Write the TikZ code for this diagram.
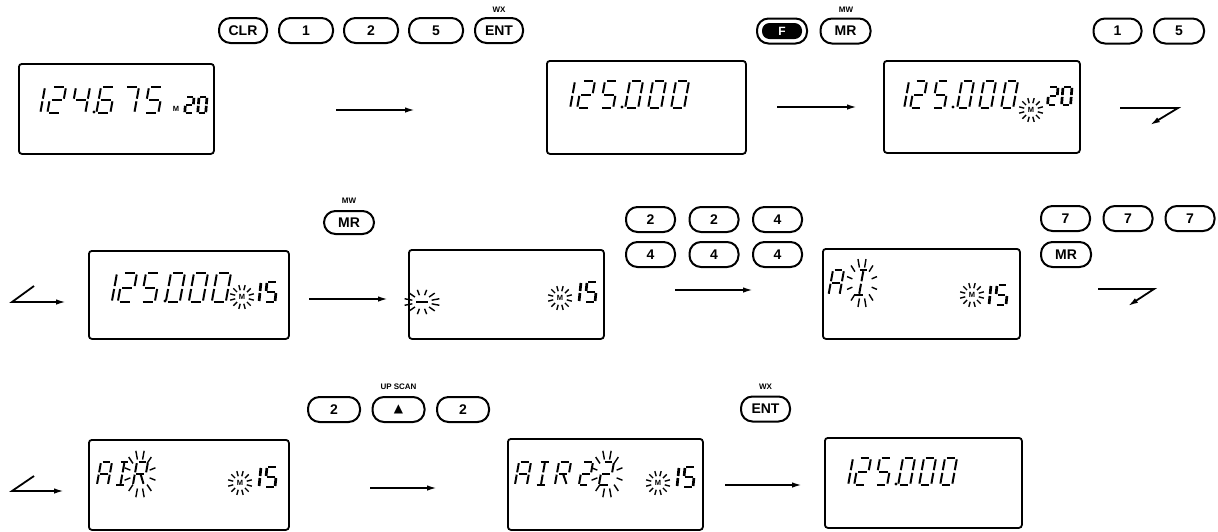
\documentclass[tikz,border=0pt]{standalone}
\usepackage{fontspec}
\setmainfont{Liberation Sans}
\newfontfamily\symfont{DejaVu Sans}
\usetikzlibrary{arrows.meta}
\def\lsl{0.18}
\def\lsga{\draw[seg] (0.14,0)--(0.86,0);}
\def\lsgb{\draw[seg] (1,0.1)--(1,0.9);}
\def\lsgc{\draw[seg] (1,1.1)--(1,1.9);}
\def\lsgd{\draw[seg] (0.14,2)--(0.86,2);}
\def\lsge{\draw[seg] (0,1.1)--(0,1.9);}
\def\lsgf{\draw[seg] (0,0.1)--(0,0.9);}
\def\lsgg{\draw[seg] (0.14,1)--(0.86,1);}
\def\lsgh{\draw[seg] (0.5,0.1)--(0.5,0.9);}
\def\lsgi{\draw[seg] (0.5,1.1)--(0.5,1.9);}
\def\lsgj{\draw[seg] (0.55,1.1)--(0.95,1.9);}
% x y w h segments(macro)
\newcommand\lch[5]{\begin{scope}[shift={(#1,#2)},xslant=\lsl,xscale=#3,yscale=#4/2]\foreach \s in #5{\csname lsg\s\endcsname}\end{scope}}
\def\Dzero{a,b,c,d,e,f}
\def\Done{e,f}
\def\Dtwo{a,b,g,e,d}
\def\Dfour{f,g,b,c}
\def\Dfive{a,f,g,c,d}
\def\Dsix{a,f,g,e,c,d}
\def\Dseven{a,b,c}
\def\LA{a,b,c,e,f,g}
\def\LI{a,d,h,i}
\def\LR{a,b,f,e,g,j}
% cx cy rx ry ratio
\newcommand\flashat[5]{\foreach \a in {15,45,...,345}{\draw[ray] ({#1+#3*cos(\a)},{#2+#4*sin(\a)}) -- ({#1+#5*#3*cos(\a)},{#2+#5*#4*sin(\a)});}}
\newcommand\keyat[6]{\node[key, minimum width=#4pt, minimum height=#5pt] (#1) at (#2,#3) {#6};}
\newcommand\dispat[5]{\node[disp, anchor=north west, minimum width=#4pt, minimum height=#5pt] (#1) at (#2,#3) {};}
\tikzset{
 disp/.style={draw, line width=1.8pt, rounded corners=3pt, inner sep=0pt},
 key/.style={draw, line width=2pt, rounded corners=11.5pt, fill=white, inner sep=0pt, font=\bfseries\fontsize{14}{14}\selectfont},
 lbl/.style={font=\bfseries\fontsize{8}{8}\selectfont, inner sep=0pt},
 mlbl/.style={font=\bfseries\fontsize{7.5}{7.5}\selectfont, inner sep=0pt},
 arr/.style={line width=1.8pt, -{Latex[length=10pt,width=5.5pt]}},
 seg/.style={line width=2pt},
 ray/.style={line width=1.4pt},
 bold/.style={seg/.style={line width=2.7pt}},
}
\begin{document}
\begin{tikzpicture}[x=1pt,y=-1pt]
\useasboundingbox (0,0) rectangle (1218,531);
% ---------------- row 1 ----------------
\keyat{kclr}{243}{30.5}{48}{25}{CLR}
\keyat{k1a}{306}{30.5}{54}{25}{1}
\keyat{k2a}{371}{30.5}{54}{25}{2}
\keyat{k5a}{436}{30.5}{54}{25}{5}
\keyat{kenta}{499}{30.5}{48}{25}{ENT}
\node[lbl] (wxa) at (499,10) {WX};
\node[key, minimum width=50pt, minimum height=25pt] (kf) at (782,31) {};
\node[fill=black, rounded corners=7.5pt, minimum width=40pt, minimum height=16pt, inner sep=0pt, text=white, font=\bfseries\fontsize{12}{12}\selectfont] (kfi) at (782,31) {F};
\keyat{kmra}{845.5}{31}{50}{25}{MR}
\node[lbl] (mwa) at (846,10) {MW};
\keyat{k1b}{1117.5}{31}{48}{25}{1}
\keyat{k5b}{1179}{31}{50}{25}{5}

\dispat{d1}{18}{63}{195}{90}
\lch{45}{87}{14}{26}{\Done}
\lch{52}{87}{14}{26}{\Dtwo}
\lch{76}{87}{14}{26}{\Dfour}
\fill (94,112) circle (1.6);
\lch{101}{87}{14}{26}{\Dsix}
\lch{125}{87}{14}{26}{\Dseven}
\lch{149}{87}{14}{26}{\Dfive}
\node[mlbl] (m1) at (176,108.5) {M};
\begin{scope}[bold]
\def\lsl{0.08}
\lch{186}{97}{8}{16}{\Dtwo}
\lch{199}{97}{8}{16}{\Dzero}
\end{scope}

\dispat{d2}{546}{60}{199}{93}
\lch{575}{81}{13}{27}{\Done}
\lch{582}{81}{13}{27}{\Dtwo}
\lch{605}{81}{13}{27}{\Dfive}
\fill (622,107) circle (1.6);
\lch{630}{81}{13}{27}{\Dzero}
\lch{653}{81}{13}{27}{\Dzero}
\lch{676}{81}{13}{27}{\Dzero}

\dispat{d3}{883}{60}{196}{92}
\lch{909}{81}{12}{27}{\Done}
\lch{915}{81}{12}{27}{\Dtwo}
\lch{937}{81}{12}{27}{\Dfive}
\fill (953,107) circle (1.6);
\lch{962}{81}{12}{27}{\Dzero}
\lch{984}{81}{12}{27}{\Dzero}
\lch{1006}{81}{12}{27}{\Dzero}
\node[mlbl] (m3) at (1031,110) {M};
\flashat{1031}{110}{7}{7}{1.75}
\begin{scope}[bold]
\def\lsl{0.08}
\lch{1049}{87}{9}{18}{\Dtwo}
\lch{1063}{87}{9}{18}{\Dzero}
\end{scope}

\coordinate (a1s) at (336,110); \coordinate (a1e) at (415,110);
\draw[arr] (a1s) -- (a1e);
\coordinate (a2s) at (777,107); \coordinate (a2e) at (857,107);
\draw[arr] (a2s) -- (a2e);
\coordinate (b1a) at (1120,108); \coordinate (b1b) at (1178,108); \coordinate (b1c) at (1150,125);
\draw[arr] (b1a) -- (b1b) -- (b1c);

% ---------------- row 2 ----------------
\keyat{kmrb}{349}{222.5}{50}{23}{MR}
\node[lbl] (mwb) at (349,201) {MW};
\keyat{k2b}{650.5}{219.5}{49}{25}{2}
\keyat{k2c}{714}{219.5}{49}{25}{2}
\keyat{k4a}{777.5}{219.5}{49}{25}{4}
\keyat{k4b}{650.5}{254.5}{49}{25}{4}
\keyat{k4c}{714}{254.5}{49}{25}{4}
\keyat{k4d}{777.5}{254.5}{49}{25}{4}
\keyat{k7a}{1065.5}{218.5}{49}{25}{7}
\keyat{k7b}{1128}{218.5}{49}{25}{7}
\keyat{k7c}{1190}{218.5}{49}{25}{7}
\keyat{kmrc}{1066}{254.5}{50}{25}{MR}

\dispat{d4}{88}{250}{200}{88}
\lch{117}{273}{14}{29}{\Done}
\lch{123}{273}{14}{29}{\Dtwo}
\lch{146}{273}{14}{29}{\Dfive}
\fill (165,301) circle (1.7);
\lch{171}{273}{14}{29}{\Dzero}
\lch{194}{273}{14}{29}{\Dzero}
\lch{217}{273}{14}{29}{\Dzero}
\node[mlbl] (m4) at (242,297) {M};
\flashat{242}{297}{7}{7}{1.75}
\begin{scope}[bold]
\def\lsl{0.1}
\lch{261}{282}{1}{20}{\Done}
\lch{267}{282}{10}{20}{\Dfive}
\end{scope}

\dispat{d5}{408}{249}{195}{89}
\draw[seg] (416,302) -- (428,302);
\flashat{422}{302}{10}{7}{1.8}
\node[mlbl] (m5) at (560,298) {M};
\flashat{560}{298}{7}{7}{1.75}
\begin{scope}[bold]
\def\lsl{0.1}
\lch{581}{282}{1}{20}{\Done}
\lch{587}{282}{10}{20}{\Dfive}
\end{scope}

\dispat{d6}{822}{248}{197}{90}
\lch{833}{270}{11}{25}{\LA}
\lch{858}{270}{11}{25}{\LI}
\flashat{862}{283}{10}{16}{1.55}
\node[mlbl] (m6) at (972,295) {M};
\flashat{972}{295}{7}{7}{1.75}
\begin{scope}[bold]
\def\lsl{0.1}
\lch{991}{285}{1}{20}{\Done}
\lch{997}{285}{11}{20}{\Dfive}
\end{scope}

\coordinate (b2a) at (34,286); \coordinate (b2b) at (12,302); \coordinate (b2c) at (66,302);
\draw[arr] (b2a) -- (b2b) -- (b2c);
\coordinate (a3s) at (309,299); \coordinate (a3e) at (388,299);
\draw[arr] (a3s) -- (a3e);
\coordinate (a4s) at (675,290); \coordinate (a4e) at (753,290);
\draw[arr] (a4s) -- (a4e);
\coordinate (b3a) at (1098,289); \coordinate (b3b) at (1154,289); \coordinate (b3c) at (1128,306);
\draw[arr] (b3a) -- (b3b) -- (b3c);

% ---------------- row 3 ----------------
\keyat{k2d}{334}{409.5}{52}{25}{2}
\node[key, minimum width=52pt, minimum height=25pt] (kup) at (398.5,409.5) {\symfont\fontsize{12}{12}\selectfont ▲};
\keyat{k2e}{463}{409.5}{52}{25}{2}
\node[lbl] (upscan) at (398.5,387) {UP SCAN};
\keyat{kentb}{765.5}{409}{49}{25}{ENT}
\node[lbl] (wxb) at (765.5,387) {WX};

\dispat{d7}{88}{439}{200}{90}
\lch{101}{462}{11}{23}{\LA}
\lch{119}{462}{11}{23}{\LI}
\lch{137}{462}{11}{23}{\LR}
\flashat{140}{474}{10}{15}{1.6}
\node[mlbl] (m7) at (240,483) {M};
\flashat{240}{483}{7}{7}{1.75}
\begin{scope}[bold]
\def\lsl{0.1}
\lch{261}{467}{1}{20}{\Done}
\lch{267}{467}{10}{20}{\Dfive}
\end{scope}

\dispat{d8}{507}{438}{195}{91}
\lch{519}{462}{12}{23}{\LA}
\lch{539}{462}{12}{23}{\LI}
\lch{559}{462}{12}{23}{\LR}
\lch{583}{462}{10}{23}{\Dtwo}
\lch{603}{462}{11}{23}{\Dtwo}
\flashat{607}{474}{10}{15}{1.6}
\node[mlbl] (m8) at (658,483) {M};
\flashat{658}{483}{7}{7}{1.75}
\begin{scope}[bold]
\def\lsl{0.1}
\lch{679}{467}{1}{20}{\Done}
\lch{685}{467}{10}{20}{\Dfive}
\end{scope}

\dispat{d9}{824}{437}{197}{90}
\lch{853}{458}{12}{27}{\Done}
\lch{859}{458}{12}{27}{\Dtwo}
\lch{880}{458}{12}{27}{\Dfive}
\fill (896,484) circle (1.6);
\lch{903}{458}{12}{27}{\Dzero}
\lch{924}{458}{12}{27}{\Dzero}
\lch{945}{458}{12}{27}{\Dzero}

\coordinate (b4a) at (34,476); \coordinate (b4b) at (12,491); \coordinate (b4c) at (64,491);
\draw[arr] (b4a) -- (b4b) -- (b4c);
\coordinate (a5s) at (370,488); \coordinate (a5e) at (437,488);
\draw[arr] (a5s) -- (a5e);
\coordinate (a6s) at (725,485); \coordinate (a6e) at (802,485);
\draw[arr] (a6s) -- (a6e);
\end{tikzpicture}
\end{document}
